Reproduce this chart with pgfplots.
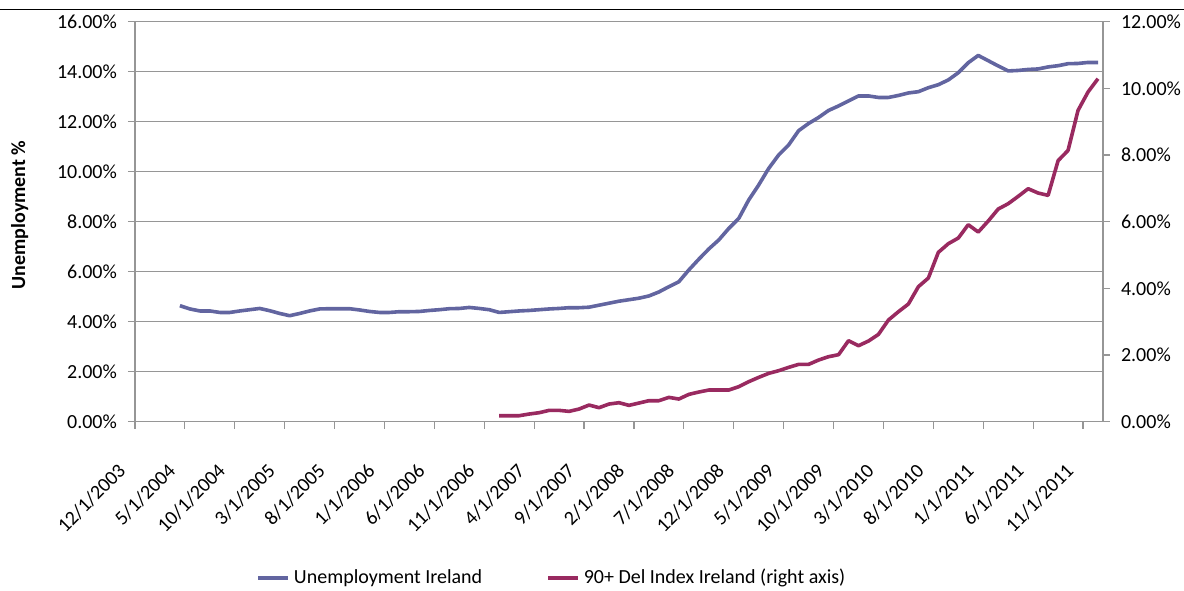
\documentclass[border=0pt,10pt]{standalone}
\usepackage{fontspec}
\setmainfont{Carlito}
\usepackage{pgfplots}
\pgfplotsset{compat=1.18}
\definecolor{unemp}{RGB}{98,101,160}
\definecolor{delq}{RGB}{153,42,96}
\definecolor{axgray}{RGB}{150,150,150}
\begin{document}
\begin{tikzpicture}
\path[use as bounding box] (-67.5pt,-84.15pt) rectangle (524.5pt,210.85pt);
\pgfplotsset{common/.style={
  scale only axis, width=484pt, height=200pt,
  xmin=-0.5, xmax=96.5, ymin=0,
  axis line style={draw=axgray, line width=0.6pt, -},
  tick align=outside, major tick length=3.5pt,
  tick style={axgray, line width=0.6pt},
  /pgf/number format/assume math mode=true,
  yticklabel={\pgfmathprintnumber[fixed,fixed zerofill,precision=2]{\tick}\%},
  tick label style={font=\normalsize, black},
}}
\begin{axis}[common,
  ymax=16, ytick={0,2,4,6,8,10,12,14,16},
  axis x line*=bottom, axis y line*=left,
  ymajorgrids, grid style={axgray, line width=0.6pt},
  xtick={-0.5,4.5,9.5,14.5,19.5,24.5,29.5,34.5,39.5,44.5,49.5,54.5,59.5,64.5,69.5,74.5,79.5,84.5,89.5,94.5},
  xticklabels={12/1/2003,5/1/2004,10/1/2004,3/1/2005,8/1/2005,1/1/2006,6/1/2006,11/1/2006,4/1/2007,9/1/2007,2/1/2008,7/1/2008,12/1/2008,5/1/2009,10/1/2009,3/1/2010,8/1/2010,1/1/2011,6/1/2011,11/1/2011},
  x tick label style={xshift=-4pt, yshift=-17pt, rotate=45, anchor=east},
  y tick label style={xshift=-2pt},
  ylabel={\textbf{Unemployment \%}},
  ylabel style={at={(axis description cs:-0.119,0.517)}, anchor=center},
]
\addplot[unemp, line width=1.8pt, line join=round] coordinates {
(4,4.64) (5,4.51) (6,4.43) (7,4.43) (8,4.37) (9,4.37) (10,4.43) (11,4.48) (12,4.53) (13,4.44)
(14,4.33) (15,4.24) (16,4.33) (17,4.43) (18,4.51) (19,4.52) (20,4.52) (21,4.52) (22,4.47) (23,4.41)
(24,4.37) (25,4.37) (26,4.40) (27,4.40) (28,4.41) (29,4.45) (30,4.48) (31,4.52) (32,4.53) (33,4.57)
(34,4.53) (35,4.48) (36,4.37) (37,4.40) (38,4.43) (39,4.45) (40,4.48) (41,4.51) (42,4.53) (43,4.56)
(44,4.56) (45,4.58) (46,4.66) (47,4.74) (48,4.82) (49,4.88) (50,4.94) (51,5.03) (52,5.19) (53,5.40)
(54,5.60) (55,6.07) (56,6.50) (57,6.91) (58,7.27) (59,7.73) (60,8.13) (61,8.87) (62,9.47) (63,10.13)
(64,10.67) (65,11.07) (66,11.64) (67,11.93) (68,12.17) (69,12.45) (70,12.63) (71,12.83) (72,13.03) (73,13.03)
(74,12.97) (75,12.97) (76,13.05) (77,13.15) (78,13.20) (79,13.36) (80,13.48) (81,13.67) (82,13.96) (83,14.36)
(84,14.65) (85,14.44) (86,14.23) (87,14.03) (88,14.05) (89,14.09) (90,14.11) (91,14.19) (92,14.24) (93,14.32)
(94,14.33) (95,14.37) (96,14.37)
};
\end{axis}
\begin{axis}[common,
  ymax=12, ytick={0,2,4,6,8,10,12},
  axis y line*=right, axis x line=none, xtick=\empty,
  y tick label style={xshift=2pt},
  legend style={at={(axis description cs:0.125,-0.391)}, anchor=west, draw=none, fill=none,
    legend columns=2, font=\normalsize, inner sep=0pt,
    /tikz/every even column/.append style={column sep=30pt}},
  legend image code/.code={\draw[#1] (0pt,0pt) -- (15pt,0pt);},
]
\addlegendimage{unemp, line width=1.8pt}
\addlegendentry{Unemployment Ireland}
\addplot[delq, line width=1.8pt, line join=round] coordinates {
(36,0.18) (37,0.18) (38,0.18) (39,0.23) (40,0.27) (41,0.34) (42,0.34) (43,0.31) (44,0.38) (45,0.50)
(46,0.42) (47,0.53) (48,0.57) (49,0.49) (50,0.56) (51,0.63) (52,0.63) (53,0.73) (54,0.68) (55,0.82)
(56,0.89) (57,0.95) (58,0.95) (59,0.95) (60,1.05) (61,1.20) (62,1.33) (63,1.45) (64,1.53) (65,1.63)
(66,1.72) (67,1.72) (68,1.85) (69,1.95) (70,2.01) (71,2.43) (72,2.28) (73,2.42) (74,2.62) (75,3.05)
(76,3.30) (77,3.53) (78,4.05) (79,4.31) (80,5.08) (81,5.34) (82,5.51) (83,5.91) (84,5.69) (85,6.02)
(86,6.38) (87,6.54) (88,6.76) (89,6.99) (90,6.86) (91,6.79) (92,7.83) (93,8.14) (94,9.34) (95,9.89)
(96,10.29)
};
\addlegendentry{90+ Del Index Ireland (right axis)}
\end{axis}
\draw[black, line width=0.7pt] (-67.5pt,206.2pt) -- (524.5pt,206.2pt);
\end{tikzpicture}
\end{document}
